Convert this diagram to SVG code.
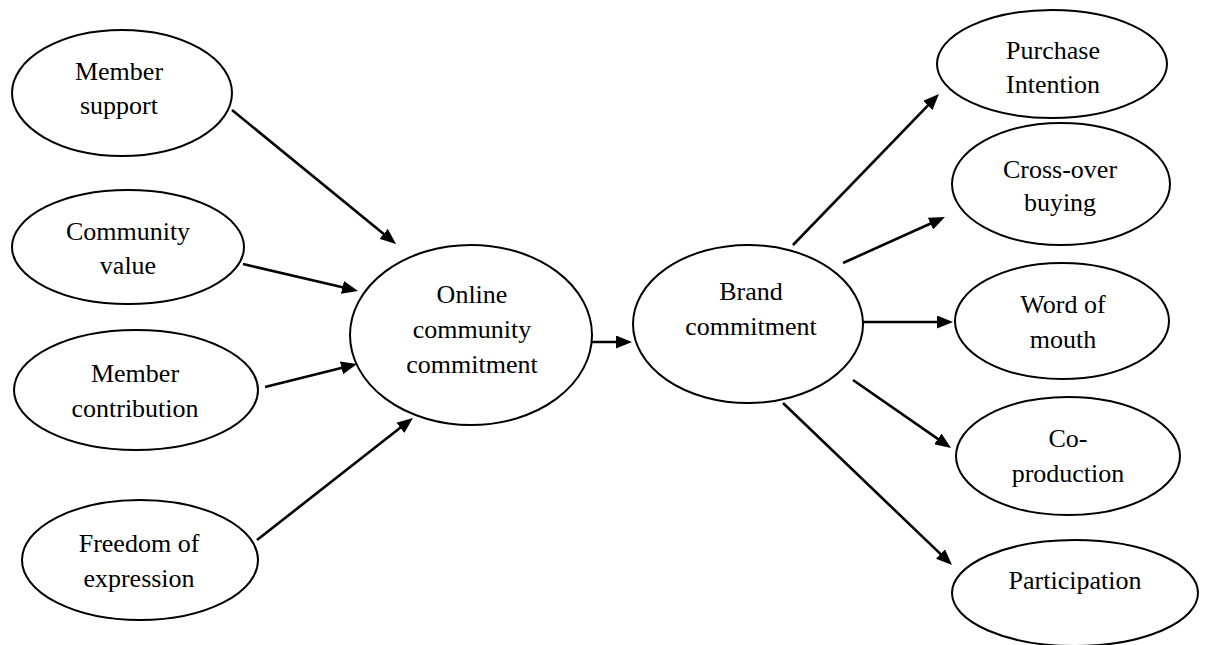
<svg xmlns="http://www.w3.org/2000/svg" width="1208" height="645" viewBox="0 0 1208 645">
<style>
.n{fill:#fff;stroke:#000;stroke-width:2}
.t{font-family:"Liberation Serif","Times New Roman",serif;font-size:26px;fill:#000;text-anchor:middle}
.c{stroke:#000;stroke-width:2.6;fill:none;marker-end:url(#ah)}
</style>
<defs>
<marker id="ah" viewBox="0 0 16 13" markerWidth="16" markerHeight="13" refX="10" refY="6.5" markerUnits="userSpaceOnUse" orient="auto">
<path d="M0,0 L16,6.5 L0,13 z" fill="#000"/>
</marker>
</defs>
<rect width="1208" height="645" fill="#fff"/>
<g id="member-support"><ellipse class="n" cx="122" cy="93" rx="110" ry="63"/><text class="t" x="119" y="80">Member</text><text class="t" x="119" y="114">support</text></g>
<g id="community-value"><ellipse class="n" cx="128" cy="247" rx="116" ry="57"/><text class="t" x="128" y="240">Community</text><text class="t" x="128" y="274">value</text></g>
<g id="member-contribution"><ellipse class="n" cx="136" cy="390" rx="122" ry="60"/><text class="t" x="135" y="382">Member</text><text class="t" x="135" y="417">contribution</text></g>
<g id="freedom"><ellipse class="n" cx="140" cy="560" rx="118" ry="60"/><text class="t" x="139" y="552">Freedom of</text><text class="t" x="139" y="587">expression</text></g>
<g id="online-community-commitment"><ellipse class="n" cx="471" cy="335" rx="121" ry="90"/><text class="t" x="472" y="303">Online</text><text class="t" x="472" y="338">community</text><text class="t" x="472" y="373">commitment</text></g>
<g id="brand-commitment"><ellipse class="n" cx="748" cy="324" rx="115" ry="79"/><text class="t" x="751" y="300">Brand</text><text class="t" x="751" y="335">commitment</text></g>
<g id="purchase-intention"><ellipse class="n" cx="1052" cy="64" rx="115" ry="54"/><text class="t" x="1053" y="59">Purchase</text><text class="t" x="1053" y="93">Intention</text></g>
<g id="cross-over-buying"><ellipse class="n" cx="1061" cy="184" rx="109" ry="61"/><text class="t" x="1060" y="178">Cross-over</text><text class="t" x="1060" y="211">buying</text></g>
<g id="word-of-mouth"><ellipse class="n" cx="1062" cy="321" rx="107" ry="58"/><text class="t" x="1063" y="313">Word of</text><text class="t" x="1063" y="348">mouth</text></g>
<g id="co-production"><ellipse class="n" cx="1068" cy="456" rx="112" ry="59"/><text class="t" x="1068" y="447">Co-</text><text class="t" x="1068" y="482">production</text></g>
<g id="participation"><ellipse class="n" cx="1075" cy="593" rx="123" ry="53"/><text class="t" x="1075" y="589">Participation</text></g>
<g id="connectors">
<line class="c" x1="232" y1="110" x2="391.4" y2="240.2"/>
<line class="c" x1="243" y1="264" x2="352.2" y2="289.6"/>
<line class="c" x1="265" y1="387" x2="351.2" y2="365.5"/>
<line class="c" x1="257" y1="540" x2="408.2" y2="421.6"/>
<line class="c" x1="592" y1="342" x2="626" y2="342"/>
<line class="c" x1="793" y1="245" x2="934.8" y2="98.3"/>
<line class="c" x1="843" y1="263" x2="939.5" y2="219.5"/>
<line class="c" x1="863" y1="322" x2="947" y2="322"/>
<line class="c" x1="853" y1="380" x2="946.1" y2="444.6"/>
<line class="c" x1="783" y1="403" x2="947.7" y2="560.9"/>
</g>
</svg>
